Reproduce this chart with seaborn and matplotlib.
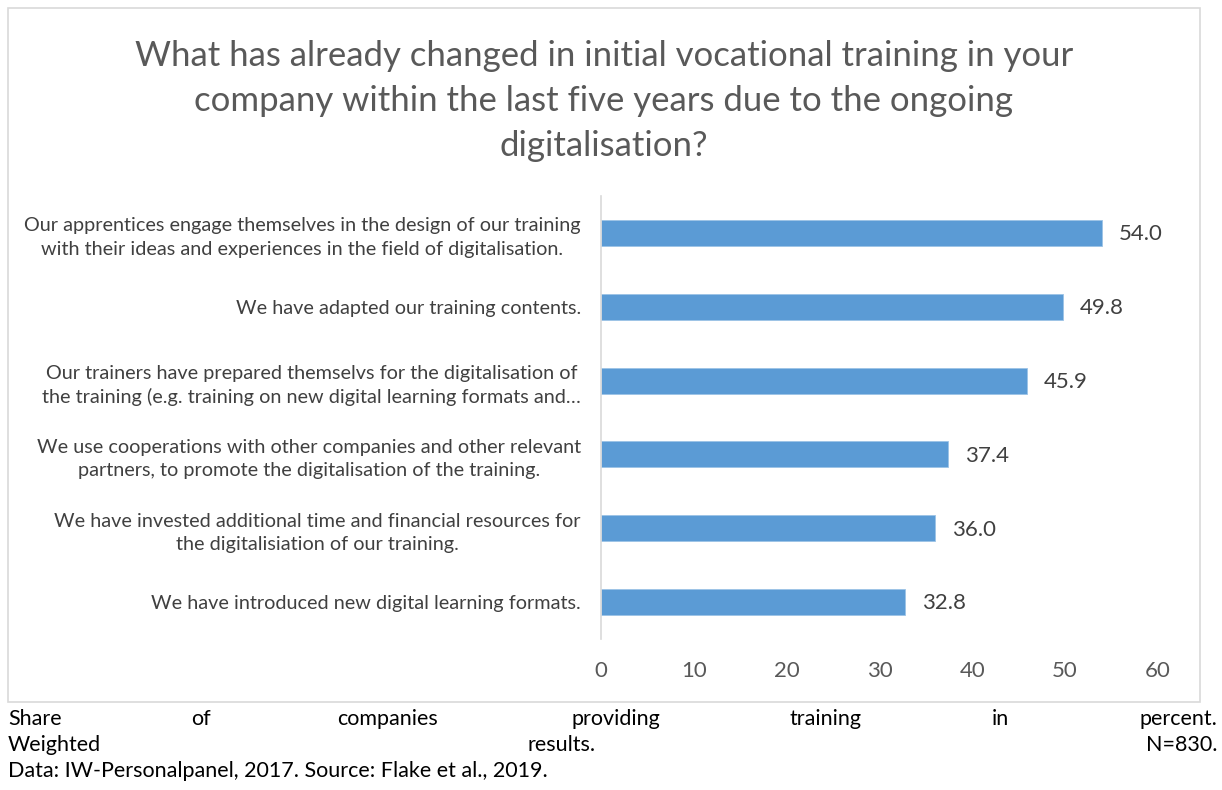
import matplotlib
matplotlib.use("Agg")
import matplotlib.pyplot as plt
import seaborn as sns
import pandas as pd
from matplotlib.patches import Rectangle

categories = [
    "Our apprentices engage themselves in the design of our training\nwith their ideas and experiences in the field of digitalisation.",
    "We have adapted our training contents.",
    "Our trainers have prepared themselvs for the digitalisation of\nthe training (e.g. training on new digital learning formats and…",
    "We use cooperations with other companies and other relevant\npartners, to promote the digitalisation of the training.",
    "We have invested additional time and financial resources for\nthe digitalisiation of our training.",
    "We have introduced new digital learning formats.",
]
values = [54.0, 49.8, 45.9, 37.4, 36.0, 32.8]
xticks = [0, 10, 20, 30, 40, 50, 60]
title = ("What has already changed in initial vocational training in your\n"
         "company within the last five years due to the ongoing\n"
         "digitalisation?")

sns.set_theme(style="white")
plt.rcParams['font.family'] = ['Lato', 'DejaVu Sans']

df = pd.DataFrame({"cat": categories, "val": values})

W, H = 1222, 790
fig = plt.figure(figsize=(W / 100, H / 100), dpi=100)
fig.patch.set_facecolor("white")

ax = fig.add_axes([601 / W, 1 - 639 / H, (1158 - 601) / W, (639 - 196) / H])
sns.barplot(data=df, x="val", y="cat", orient="h", color="#5B9BD5",
            saturation=1, width=0.35, ax=ax, edgecolor="#9CC3E6", linewidth=0.6)

ax.set_xlim(0, 60)
ax.set_ylim(5.5, -0.5)
ax.set_xticks(xticks)
ax.set_xticklabels([str(t) for t in xticks])
ax.set_xlabel("")
ax.set_ylabel("")
ax.tick_params(axis="x", length=0, pad=16, labelsize=16, labelcolor="#595959")
ax.tick_params(axis="y", length=0, pad=14.5, labelsize=14.3, labelcolor="#404040")
for lab in ax.get_yticklabels():
    lab.set_multialignment("center")
    lab.set_linespacing(1.45)
for s in ["top", "right", "bottom"]:
    ax.spines[s].set_visible(False)
ax.spines["left"].set_color("#D9D9D9")
ax.spines["left"].set_linewidth(1.2)
ax.grid(False)

for i, v in enumerate(values):
    ax.annotate(f"{v:.1f}", xy=(v, i), xytext=(12, -1), textcoords="offset points",
                ha="left", va="center", fontsize=16, color="#404040")

# chart border
fig.add_artist(Rectangle((8 / W, 1 - 702 / H), (1200 - 8) / W, (702 - 8) / H,
                         transform=fig.transFigure, fill=False,
                         edgecolor="#D9D9D9", linewidth=1.2))

fig.text(604 / W, 1 - 101 / H, title, ha="center", va="center", fontsize=25,
         color="#595959", linespacing=1.5)

# footer (justified)
fs = 15.5
y1 = 1 - 719 / H
y2 = 1 - 745 / H
y3 = 1 - 771 / H
fig.text(8 / W, y1, "Share", ha="left", va="center", fontsize=fs, color="black")
for word, xc in [("of", 201), ("companies", 387), ("providing", 616), ("training", 826), ("in", 1000)]:
    fig.text(xc / W, y1, word, ha="center", va="center", fontsize=fs, color="black")
fig.text(1217 / W, y1, "percent.", ha="right", va="center", fontsize=fs, color="black")
fig.text(8 / W, y2, "Weighted", ha="left", va="center", fontsize=fs, color="black")
fig.text(562 / W, y2, "results.", ha="center", va="center", fontsize=fs, color="black")
fig.text(1217 / W, y2, "N=830.", ha="right", va="center", fontsize=fs, color="black")
fig.text(8 / W, y3, "Data: IW-Personalpanel, 2017. Source: Flake et al., 2019.",
         ha="left", va="center", fontsize=fs, color="black")

fig.savefig("out.png", dpi=100)
